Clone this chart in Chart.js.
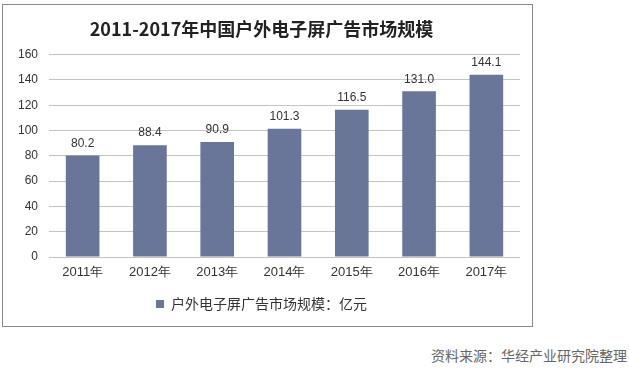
<!DOCTYPE html>
<html><head><meta charset="utf-8">
<script src="https://cdn.jsdelivr.net/npm/chart.js@4"></script>
<style>
html,body{margin:0;padding:0;background:#fff;width:629px;height:368px;overflow:hidden;}
#frame{position:absolute;left:2px;top:4px;width:531px;height:323px;border:1px solid #8a8a8a;box-sizing:border-box;}
#c{position:absolute;left:0;top:0;}
#src{position:absolute;left:431px;top:345px;font:14px "Noto Sans CJK SC",sans-serif;color:#666;white-space:nowrap;}
</style></head>
<body>
<div id="frame"><canvas id="c" width="529" height="321"></canvas></div>
<div id="src">资料来源：华经产业研究院整理</div>
<script>
const categories = ["2011年","2012年","2013年","2014年","2015年","2016年","2017年"];
const values = [80.2, 88.4, 90.9, 101.3, 116.5, 131.0, 144.1];
const seriesName = "户外电子屏广告市场规模：亿元";
const titleText = "2011-2017年中国户外电子屏广告市场规模";
const barColor = "#69769a";

const valueLabels = {
  id: "valueLabels",
  afterDatasetsDraw(chart) {
    const ctx = chart.ctx;
    const meta = chart.getDatasetMeta(0);
    ctx.save();
    ctx.font = '12px "Liberation Sans", Arial, sans-serif';
    ctx.fillStyle = "#333";
    ctx.textAlign = "center";
    ctx.textBaseline = "bottom";
    meta.data.forEach((bar, i) => {
      ctx.fillText(values[i].toFixed(1), bar.x, bar.y - 6);
    });
    ctx.restore();
  }
};

new Chart(document.getElementById("c"), {
  type: "bar",
  data: {
    labels: categories,
    datasets: [{
      label: seriesName,
      data: values,
      backgroundColor: barColor,
      borderWidth: 0,
      barPercentage: 0.5,
      categoryPercentage: 1.0
    }]
  },
  options: {
    responsive: false,
    animation: false,
    layout: { padding: { left: 0, right: 12, top: 0, bottom: 5 } },
    plugins: {
      title: {
        display: true,
        text: titleText,
        font: { family: '"Noto Sans CJK SC", sans-serif', size: 18, weight: "bold" },
        color: "#222",
        padding: { top: 13, bottom: 15 }
      },
      legend: {
        display: true,
        position: "bottom",
        labels: {
          font: { family: '"Noto Sans CJK SC", sans-serif', size: 14 },
          color: "#333",
          boxWidth: 8,
          boxHeight: 8,
          padding: 10
        }
      },
      tooltip: { enabled: false }
    },
    scales: {
      x: {
        grid: { display: false, drawTicks: false },
        border: { display: false },
        ticks: {
          color: "#333",
          padding: 8,
          font: { family: '"Liberation Sans", Arial, sans-serif', size: 13 }
        },
        afterFit(s) { s.height = 30; }
      },
      y: {
        min: 0, max: 160,
        ticks: {
          stepSize: 20,
          color: "#333",
          padding: 11,
          font: { family: '"Liberation Sans", Arial, sans-serif', size: 12 }
        },
        grid: { color: "#c4c4c4", drawTicks: false, lineWidth: 1 },
        border: { display: false },
        afterFit(s) { s.width = 46; }
      }
    }
  },
  plugins: [valueLabels]
});
</script>
</body></html>
